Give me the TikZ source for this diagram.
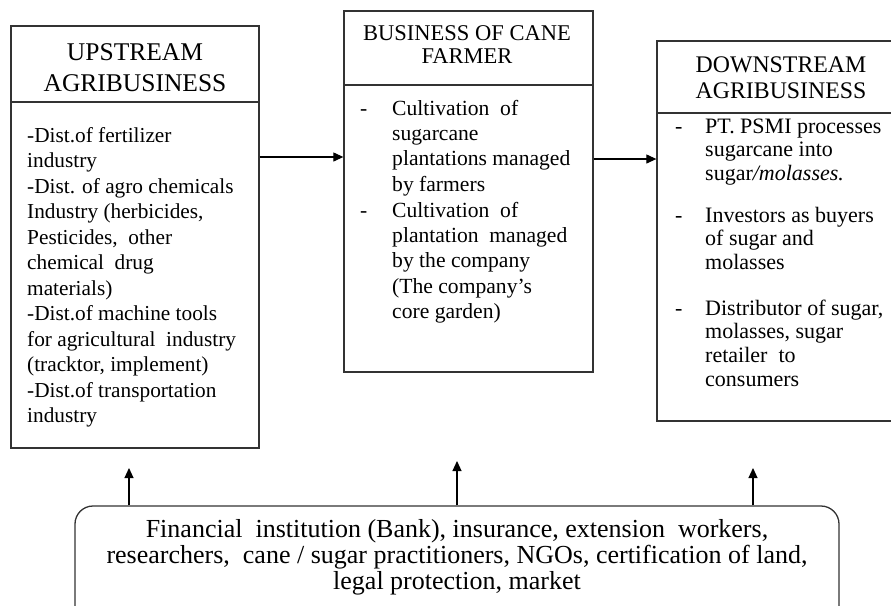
\documentclass[tikz,border=0pt]{standalone}
\usepackage{fontspec}
\setmainfont{Liberation Serif}
\usetikzlibrary{arrows.meta}
\begin{document}
\begin{tikzpicture}[x=1pt,y=-1pt,
  boxnode/.style={draw=black!80, line width=1.3pt, inner sep=0, fill=none},
  divider/.style={draw=black!80, line width=1.3pt},
  conn/.style={draw=black, line width=1.1pt, -{Triangle[length=10pt,width=9pt]}},
  hdr/.style={inner sep=0, align=center, anchor=base},
  body/.style={inner sep=0, align=left, anchor=base west},
]
\useasboundingbox (0,0) rectangle (891,605);

% boxes
\node[boxnode, minimum width=248pt, minimum height=422pt] (up) at (135,237) {};
\node[boxnode, minimum width=249pt, minimum height=361pt] (mid) at (468.5,191.5) {};
\node[boxnode, minimum width=248pt, minimum height=380pt] (down) at (781,231) {};
\node[boxnode, rounded corners=18pt, minimum width=764pt, minimum height=134pt] (bot) at (457,573) {};

% header dividers
\draw[divider] (up.west |- 0,102) -- (up.east |- 0,102);
\draw[divider] (mid.west |- 0,85) -- (mid.east |- 0,85);
\draw[divider] (down.west |- 0,113) -- (down.east |- 0,113);

% headers (anchor = baseline of last line)
\node[hdr, font=\fontsize{25.5}{31}\selectfont] (uph) at (135,91) {UPSTREAM\\AGRIBUSINESS};
\node[hdr, font=\fontsize{22.5}{23.5}\selectfont] (midh) at (467,63.5) {BUSINESS OF CANE\\FARMER};
\node[hdr, font=\fontsize{23.8}{26}\selectfont] (downh) at (781,98) {DOWNSTREAM\\AGRIBUSINESS};

% left body
\node[body, font=\fontsize{21.3}{25.5}\selectfont] (upb) at (27,422.5) {-Dist.of fertilizer\\
industry\\
-Dist. of agro chemicals\\
Industry (herbicides,\\
Pesticides,\ \ other\\
chemical\ \ drug\\
materials)\\
-Dist.of machine tools\\
for agricultural\ \ industry\\
(tracktor, implement)\\
-Dist.of transportation\\
industry};

% middle body
\node[body, font=\fontsize{21.6}{25.4}\selectfont] (md1) at (360,115) {-};
\node[body, font=\fontsize{21.6}{25.4}\selectfont] (mt1) at (392,191.2) {Cultivation\ \ of\\
sugarcane\\
plantations\ managed\\
by farmers};
\node[body, font=\fontsize{21.6}{25.4}\selectfont] (md2) at (360,217) {-};
\node[body, font=\fontsize{21.6}{25.4}\selectfont] (mt2) at (392,318.6) {Cultivation\ \ of\\
plantation\ \ managed\\
by the company\\
(The company’s\\
core garden)};

% right body
\node[body, font=\fontsize{22}{23.7}\selectfont] (dd1) at (675,133) {-};
\node[body, font=\fontsize{22}{23.7}\selectfont] (dt1) at (705,180.4) {PT. PSMI processes\\
sugarcane into\\
sugar\textit{/molasses.}};
\node[body, font=\fontsize{22}{23.7}\selectfont] (dd2) at (675,222) {-};
\node[body, font=\fontsize{22}{23.7}\selectfont] (dt2) at (705,269.4) {Investors as buyers\\
of sugar and\\
molasses};
\node[body, font=\fontsize{22}{23.7}\selectfont] (dd3) at (675,315) {-};
\node[body, font=\fontsize{22}{23.7}\selectfont] (dt3) at (705,386.1) {Distributor of sugar,\\
molasses, sugar\\
retailer\ \ to\\
consumers};

% bottom text
\node[hdr, font=\fontsize{26}{26}\selectfont] (bott) at (457,589) {Financial\ \ institution (Bank), insurance, extension\ \ workers,\\
researchers,\ \ cane / sugar practitioners, NGOs, certification of land,\\
legal protection, market};

% connectors
\draw[conn] (up.east |- 0,157) -- (mid.west |- 0,157);
\draw[conn] (mid.east |- 0,159) -- (down.west |- 0,159);
\coordinate (t1) at (129,468);
\coordinate (t2) at (457,461);
\coordinate (t3) at (753,468);
\draw[conn] (bot.north -| t1) -- (t1);
\draw[conn] (bot.north -| t2) -- (t2);
\draw[conn] (bot.north -| t3) -- (t3);
\end{tikzpicture}
\end{document}
